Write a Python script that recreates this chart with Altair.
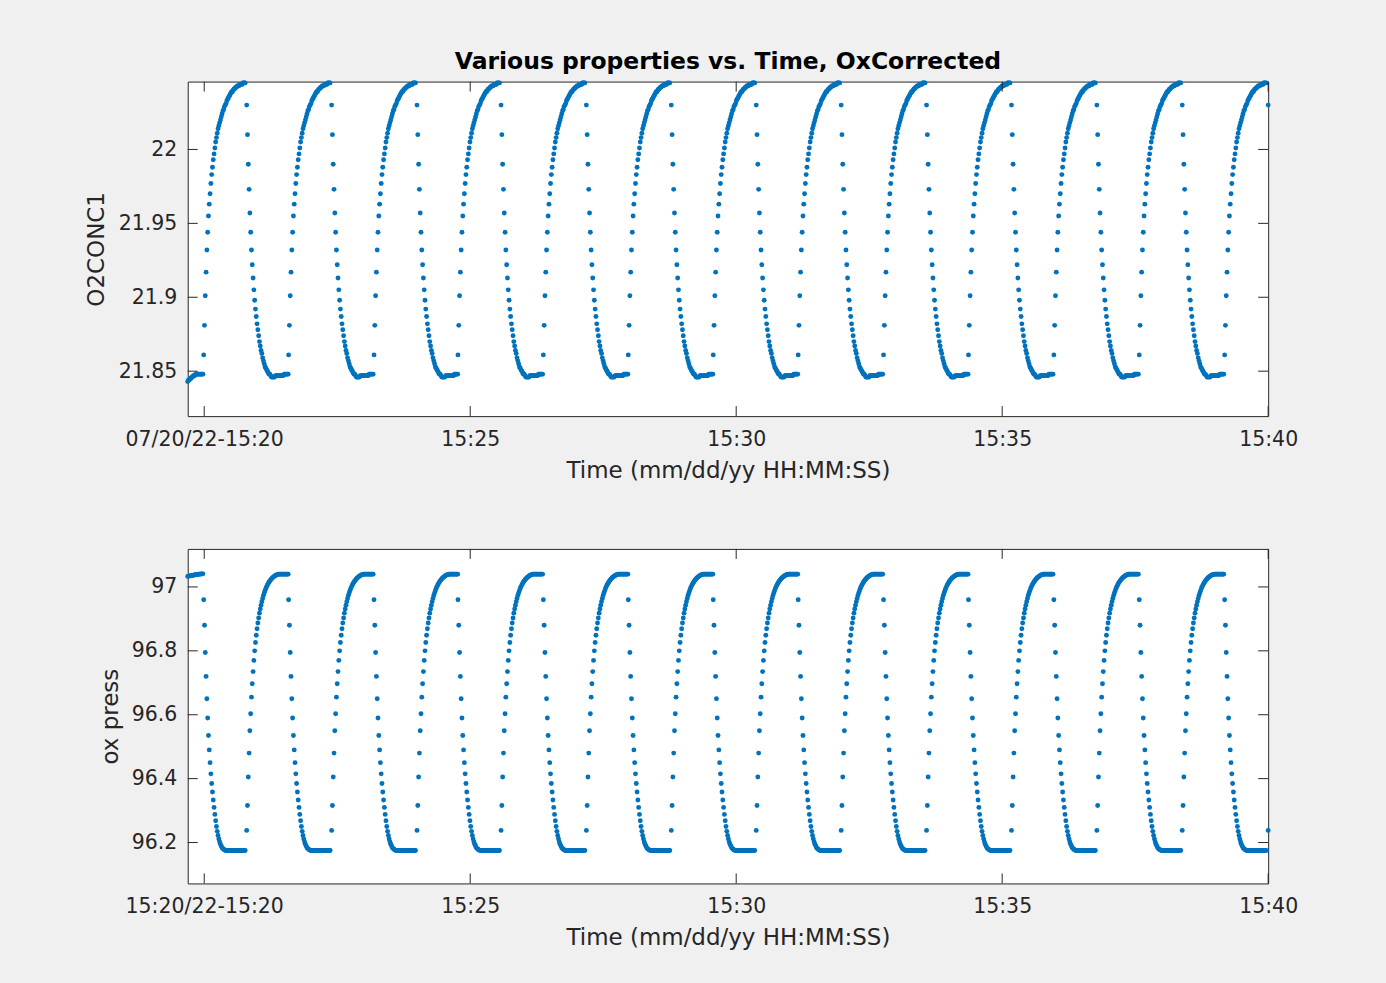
import altair as alt
import pandas as pd

# Sample spacing of the logger, in seconds
DT = 0.9

# Seconds after 15:20:00 at which each O2 up-step and down-step begins
RISE_START = [-0.6, 95.2, 191.5, 286.2, 382.5, 478.3, 574.1, 669.9,
              766.2, 862.0, 958.3, 1054.6, 1150.9]
FALL_START = [47.9, 143.7, 240.0, 334.8, 431.0, 526.8, 622.6, 718.4,
              814.7, 910.5, 1006.8, 1103.1, 1200.0]
RECORD_END = 1200.0

# O2CONC1 readings
O2_LEAD = [21.843, 21.844, 21.844, 21.845, 21.845, 21.846, 21.846, 21.847, 21.847, 21.847,
           21.848, 21.848, 21.848, 21.848, 21.848, 21.848, 21.848, 21.848, 21.848, 21.848]
O2_RISE = [21.861, 21.881, 21.901, 21.917, 21.932, 21.944, 21.955, 21.963, 21.970, 21.977,
           21.983, 21.988, 21.993, 21.997, 22.001, 22.005, 22.008, 22.011, 22.014, 22.016,
           22.018, 22.020, 22.022, 22.024, 22.026, 22.027, 22.029, 22.030, 22.031, 22.033,
           22.034, 22.035, 22.036, 22.037, 22.038, 22.039, 22.039, 22.040, 22.041, 22.041,
           22.042, 22.042, 22.043, 22.043, 22.043, 22.044, 22.044, 22.044, 22.044, 22.045,
           22.045, 22.045, 22.045]
O2_FALL = [22.030, 22.010, 21.990, 21.973, 21.957, 21.944, 21.932, 21.922, 21.913, 21.905,
           21.898, 21.892, 21.887, 21.882, 21.878, 21.874, 21.870, 21.867, 21.864, 21.862,
           21.859, 21.857, 21.855, 21.853, 21.852, 21.851, 21.850, 21.849, 21.848, 21.848,
           21.847, 21.846, 21.846, 21.846, 21.846, 21.846, 21.847, 21.847, 21.847, 21.847,
           21.847, 21.847, 21.847, 21.847, 21.847, 21.847, 21.847, 21.848, 21.848, 21.848,
           21.848, 21.848, 21.848]

# ox press readings (falls while O2 rises, rises while O2 falls)
PRESS_LEAD = [97.033, 97.034, 97.034, 97.035, 97.035, 97.036, 97.036, 97.037, 97.037, 97.038,
              97.038, 97.039, 97.039, 97.040, 97.040, 97.040, 97.040, 97.041, 97.041, 97.041]
PRESS_FALL = [96.960, 96.880, 96.795, 96.720, 96.650, 96.590, 96.535, 96.490, 96.450, 96.415,
              96.385, 96.358, 96.333, 96.310, 96.288, 96.268, 96.250, 96.235, 96.222, 96.211,
              96.202, 96.195, 96.189, 96.184, 96.181, 96.179, 96.177, 96.176, 96.175, 96.175,
              96.175, 96.175, 96.175, 96.175, 96.175, 96.175, 96.175, 96.175, 96.175, 96.175,
              96.175, 96.175, 96.175, 96.175, 96.175, 96.175, 96.175, 96.175, 96.175, 96.175,
              96.175, 96.175, 96.175]
PRESS_RISE = [96.238, 96.316, 96.405, 96.480, 96.550, 96.603, 96.655, 96.697, 96.735, 96.770,
              96.800, 96.826, 96.849, 96.869, 96.887, 96.903, 96.918, 96.931, 96.943, 96.954,
              96.964, 96.973, 96.981, 96.988, 96.995, 97.001, 97.006, 97.011, 97.015, 97.019,
              97.022, 97.025, 97.028, 97.030, 97.032, 97.034, 97.036, 97.037, 97.038, 97.039,
              97.040, 97.040, 97.040, 97.040, 97.040, 97.040, 97.040, 97.040, 97.040, 97.040,
              97.040, 97.040, 97.040]

# Axes
X_TICKS = [0, 300, 600, 900, 1200]
X_LABELS_TOP = ["07/20/22-15:20", "15:25", "15:30", "15:35", "15:40"]
X_LABELS_BOTTOM = ["15:20/22-15:20", "15:25", "15:30", "15:35", "15:40"]
O2_TICKS = [21.85, 21.9, 21.95, 22.0]
PRESS_TICKS = [96.2, 96.4, 96.6, 96.8, 97.0]
O2_DOMAIN = [21.8196, 22.0459]
PRESS_DOMAIN = [96.072, 97.119]
FIGURE_TITLE = "Various properties vs. Time, OxCorrected"

W, H = 1082, 335
TICK = 10
AXIS_COLOR = "#262626"
DOT_COLOR = "#0072BD"
FONT = "DejaVu Sans"


def assemble(lead, up, down):
    """Lay the readings of each step out on the time axis."""
    rows = []
    t0 = RISE_START[0] - len(lead) * DT
    for i, v in enumerate(lead):
        rows.append((t0 + i * DT, v))
    for k in range(len(RISE_START)):
        nxt = RISE_START[k + 1] if k + 1 < len(RISE_START) else RECORD_END + DT / 2
        for i, v in enumerate(up):
            t = RISE_START[k] + i * DT
            if t >= FALL_START[k]:
                break
            rows.append((t, v))
        for i, v in enumerate(down):
            t = FALL_START[k] + i * DT
            if t >= nxt:
                break
            rows.append((t, v))
    return pd.DataFrame(rows, columns=["t", "v"])


o2 = assemble(O2_LEAD, O2_RISE, O2_FALL)
press = assemble(PRESS_LEAD, PRESS_FALL, PRESS_RISE)
X_DOMAIN = [float(o2["t"].min()), float(o2["t"].max())]


def label_expr(labels):
    parts = [f"datum.value == {t} ? '{lab}'" for t, lab in zip(X_TICKS, labels)]
    return " : ".join(parts) + " : ''"


def panel(df, y_title, y_ticks, y_domain, y_fmt, x_labels, title_x, pin, heading=None):
    x_enc = alt.X(
        "t:Q",
        scale=alt.Scale(domain=X_DOMAIN, nice=False, zero=False),
        axis=alt.Axis(
            values=X_TICKS, labelExpr=label_expr(x_labels),
            title="Time (mm/dd/yy HH:MM:SS)",
            ticks=False, tickSize=0, domain=False, grid=False,
            labelFlush=False, labelOverlap=False,
            labelBaseline="alphabetic", labelPadding=29.5,
            titleX=W / 2, titleY=61, titleAlign="center", titleBaseline="alphabetic",
        ),
    )
    y_enc = alt.Y(
        "v:Q",
        scale=alt.Scale(domain=y_domain, nice=False, zero=False),
        axis=alt.Axis(
            values=y_ticks, format=y_fmt, title=y_title,
            ticks=False, tickSize=0, domain=False, grid=False,
            labelPadding=11, labelOverlap=False,
            titleAngle=270, titleX=title_x, titleY=H / 2,
            titleAlign="center", titleBaseline="alphabetic",
        ),
    )
    dots = alt.Chart(df).mark_circle(size=24, color=DOT_COLOR, opacity=1).encode(x=x_enc, y=y_enc)

    ytk = pd.DataFrame({"v": y_ticks})
    xtk = pd.DataFrame({"t": X_TICKS})
    rule = dict(color=AXIS_COLOR, strokeWidth=1)
    left = alt.Chart(ytk).mark_rule(**rule).encode(y=y_enc, x=alt.value(0), x2=alt.value(TICK))
    right = alt.Chart(ytk).mark_rule(**rule).encode(y=y_enc, x=alt.value(W - TICK), x2=alt.value(W))
    bottom = alt.Chart(xtk).mark_rule(**rule).encode(x=x_enc, y=alt.value(H - TICK), y2=alt.value(H))
    top = alt.Chart(xtk).mark_rule(**rule).encode(x=x_enc, y=alt.value(0), y2=alt.value(TICK))

    # invisible corner marker that fixes the figure extent
    one = pd.DataFrame({"k": [0]})
    corner = alt.Chart(one).mark_point(opacity=0, size=1).encode(
        x=alt.value(pin[0]), y=alt.value(pin[1])
    )
    layers = [dots, left, right, bottom, top, corner]
    if heading:
        layers.append(
            alt.Chart(one).mark_text(
                text=heading, font=FONT, fontSize=23.5, fontWeight="bold", color="#000000",
                align="center", baseline="alphabetic",
            ).encode(x=alt.value(W / 2), y=alt.value(-12.4))
        )
    return alt.layer(*layers).properties(width=W, height=H)


top_panel = panel(o2, "O2CONC1", O2_TICKS, O2_DOMAIN, ".2~f", X_LABELS_TOP, -84, (-187, -80),
                  heading=FIGURE_TITLE)
bottom_panel = panel(press, "ox press", PRESS_TICKS, PRESS_DOMAIN, ".1~f", X_LABELS_BOTTOM, -70.5,
                     (1199, 435))

chart = (
    alt.vconcat(top_panel, bottom_panel, spacing=133, bounds="flush")
    .configure(background="#f0f0f0", padding=0)
    .configure_view(stroke=AXIS_COLOR, strokeWidth=1, fill="#ffffff")
    .configure_axis(
        labelFont=FONT, labelFontSize=20.5, labelColor=AXIS_COLOR,
        titleFont=FONT, titleFontSize=23, titleColor=AXIS_COLOR, titleFontWeight="normal",
    )
)

chart.save("out.html", embed_options={"renderer": "svg", "actions": False})
